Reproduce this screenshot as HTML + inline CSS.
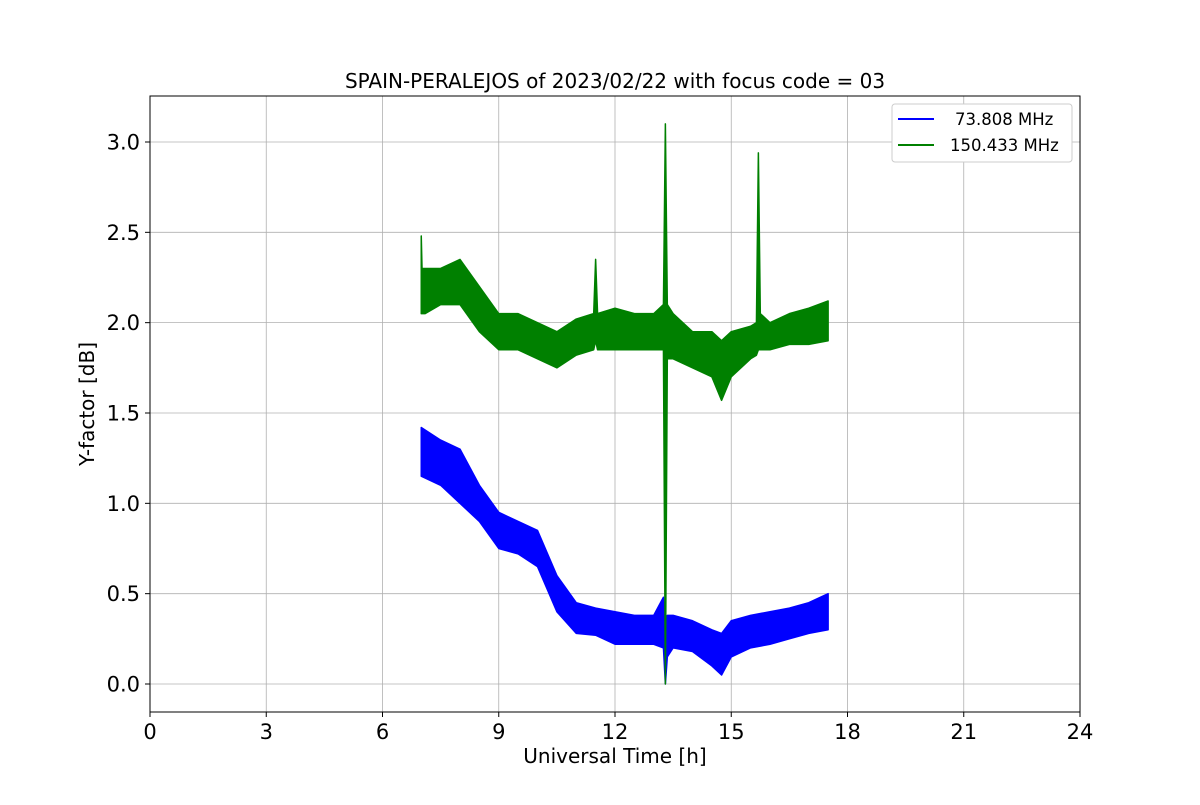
<!DOCTYPE html>
<html><head><meta charset="utf-8"><style>
body{margin:0;background:#fff;}
svg text{font-family:"DejaVu Sans","Liberation Sans",sans-serif;fill:#000;}
</style></head><body>
<svg id="chart" width="1200" height="800" xmlns="http://www.w3.org/2000/svg">
<rect width="1200" height="800" fill="#fff"/>
<g id="grid"></g>
<g id="series"></g>
<rect x="150" y="96" width="930" height="616" fill="none" stroke="#000" stroke-width="1"/>
<g id="ticks"></g>
<text x="615" y="88" font-size="20" text-anchor="middle">SPAIN-PERALEJOS of 2023/02/22 with focus code = 03</text>
<text x="615" y="763" font-size="20" text-anchor="middle">Universal Time [h]</text>
<text transform="translate(94,404) rotate(-90)" font-size="20" text-anchor="middle">Y-factor [dB]</text>
<g>
<rect x="892" y="104" width="180" height="58" rx="3" fill="#fff" stroke="#ccc"/>
<line x1="898" y1="119" x2="934" y2="119" stroke="#0000ff" stroke-width="2"/>
<text x="955" y="125" font-size="16.5">73.808 MHz</text>
<line x1="898" y1="145" x2="934" y2="145" stroke="#008000" stroke-width="2"/>
<text x="950" y="151" font-size="16.5">150.433 MHz</text>
</g>
</svg>
<script>
const xTicks=[0,3,6,9,12,15,18,21,24];
const yTicks=[0.0,0.5,1.0,1.5,2.0,2.5,3.0];
const blueT=[7,7.5,8,8.5,9,9.5,10,10.5,11,11.5,12,12.5,13,13.25,13.3,13.35,13.5,14,14.5,14.75,15,15.5,16,16.5,17,17.5];
const blueLo=[1.15,1.1,1.0,0.9,0.75,0.72,0.65,0.4,0.28,0.27,0.22,0.22,0.22,0.2,0.0,0.15,0.2,0.18,0.1,0.05,0.15,0.2,0.22,0.25,0.28,0.3];
const blueHi=[1.42,1.35,1.3,1.1,0.95,0.9,0.85,0.6,0.45,0.42,0.4,0.38,0.38,0.48,0.3,0.38,0.38,0.35,0.3,0.28,0.35,0.38,0.4,0.42,0.45,0.5];
const greenT=[7,7.02,7.1,7.5,8,8.5,9,9.5,10,10.5,11,11.45,11.5,11.55,12,12.5,13,13.25,13.3,13.35,13.5,14,14.5,14.75,15,15.5,15.65,15.7,15.75,16,16.5,17,17.5];
const greenLo=[2.05,2.05,2.05,2.1,2.1,1.95,1.85,1.85,1.8,1.75,1.82,1.85,1.9,1.85,1.85,1.85,1.85,1.85,0.0,1.8,1.8,1.75,1.7,1.57,1.7,1.8,1.82,1.85,1.85,1.85,1.88,1.88,1.9];
const greenHi=[2.48,2.3,2.3,2.3,2.35,2.2,2.05,2.05,2.0,1.95,2.02,2.05,2.35,2.05,2.08,2.05,2.05,2.1,3.1,2.1,2.05,1.95,1.95,1.9,1.95,1.98,2.0,2.94,2.05,2.0,2.05,2.08,2.12];
const X=t=>150+t/24*930;
const Y=v=>684-v*180.67;
const NS="http://www.w3.org/2000/svg";
function mk(tag,attrs,parent){const e=document.createElementNS(NS,tag);for(const k in attrs)e.setAttribute(k,attrs[k]);parent.appendChild(e);return e;}
const grid=document.getElementById('grid'),ticks=document.getElementById('ticks'),series=document.getElementById('series');
xTicks.forEach(t=>{
 const g=mk('line',{x1:X(t),x2:X(t),y1:96,y2:712,stroke:'#b0b0b0','stroke-width':0.8},grid);
 
 
 const tk=mk('line',{x1:X(t),x2:X(t),y1:712,y2:717,stroke:'#000'},ticks);
 
 
 const tx=mk('text',{x:X(t),y:739,'font-size':21,'text-anchor':'middle'},ticks);tx.textContent=t;
 
 
});
yTicks.forEach(v=>{
 const g=mk('line',{x1:150,x2:1080,y1:Y(v),y2:Y(v),stroke:'#b0b0b0','stroke-width':0.8},grid);
 
 
 const tk=mk('line',{x1:145,x2:150,y1:Y(v),y2:Y(v),stroke:'#000'},ticks);
 
 
 const tx=mk('text',{x:140,y:Y(v)+7.5,'font-size':21,'text-anchor':'end'},ticks);tx.textContent=v.toFixed(1);
 
 
});
function band(T,lo,hi,color,name){
 let pts=T.map((t,i)=>X(t)+','+Y(hi[i]));
 for(let i=T.length-1;i>=0;i--)pts.push(X(T[i])+','+Y(lo[i]));
 const p=mk('polygon',{points:pts.join(' '),fill:color,stroke:color,'stroke-width':1.5,'stroke-linejoin':'round'},series);
 
 
}
band(blueT,blueLo,blueHi,'#0000ff','series-73-808-mhz');
band(greenT,greenLo,greenHi,'#008000','series-150-433-mhz');
</script>
</body></html>
